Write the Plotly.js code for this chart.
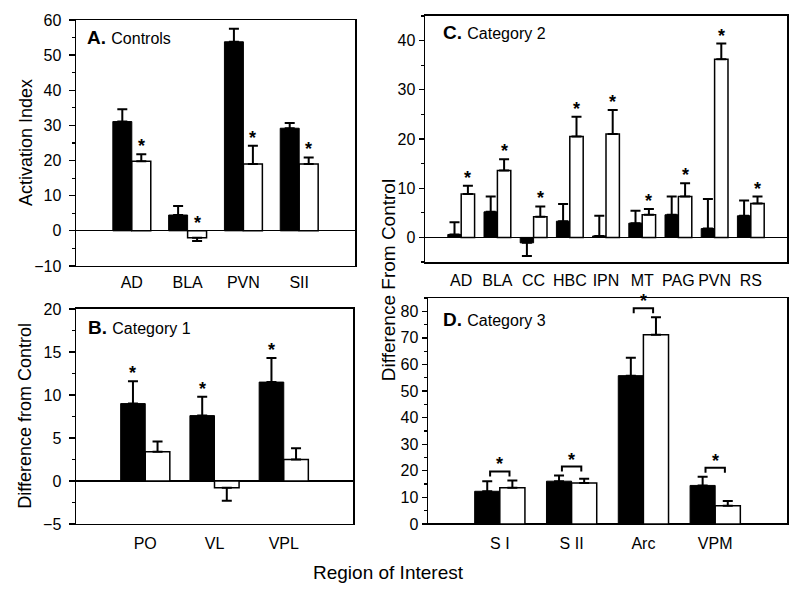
<!DOCTYPE html>
<html>
<head>
<meta charset="utf-8">
<script src="https://cdn.plot.ly/plotly-3.0.1.min.js"></script>
<style>html,body{margin:0;padding:0;background:#fff;}#chart{width:800px;height:590px;}</style>
</head>
<body>
<div id="chart"></div>
<script>
// ---- Panel A: Controls ----
const aCats = ['AD', 'BLA', 'PVN', 'SII'];
const aBlack = [31.1, 4.5, 53.8, 29.2];
const aBlackErr = [3.5, 2.6, 3.7, 1.5];
const aWhite = [19.8, -2.0, 19.0, 19.0];
const aWhiteErr = [2.0, 0.9, 5.2, 1.9];

// ---- Panel B: Category 1 ----
const bCats = ['PO', 'VL', 'VPL'];
const bBlack = [9.0, 7.6, 11.5];
const bBlackErr = [2.6, 2.2, 2.8];
const bWhite = [3.4, -0.8, 2.5];
const bWhiteErr = [1.2, 1.5, 1.3];

// ---- Panel C: Category 2 ----
const cCats = ['AD', 'BLA', 'CC', 'HBC', 'IPN', 'MT', 'PAG', 'PVN', 'RS'];
const cBlack = [0.6, 5.2, -1.1, 3.3, 0.3, 2.9, 4.6, 1.8, 4.4];
const cBlackErr = [2.5, 3.1, 2.7, 3.5, 4.1, 2.5, 3.7, 6.0, 3.1];
const cWhite = [8.8, 13.6, 4.2, 20.5, 21.0, 4.6, 8.3, 36.2, 6.9];
const cWhiteErr = [1.7, 2.3, 2.1, 4.0, 4.9, 1.2, 2.7, 3.2, 1.4];

// ---- Panel D: Category 3 ----
const dCats = ['S I', 'S II', 'Arc', 'VPM'];
const dBlack = [12.3, 16.1, 55.8, 14.5];
const dBlackErr = [3.8, 2.1, 6.7, 3.3];
const dWhite = [13.6, 15.4, 71.2, 6.9];
const dWhiteErr = [2.8, 1.6, 6.6, 1.7];

const FONT = 'Liberation Sans, Arial, Helvetica, sans-serif';

function idx(arr) { return arr.map((_, i) => i); }
function errUp(v, e) { return v.map((x, i) => x >= 0 ? e[i] : 0); }
function errDown(v, e) { return v.map((x, i) => x < 0 ? e[i] : 0); }
function topOf(v, e) { return v.map((x, i) => x >= 0 ? x + e[i] : 0); }

function barPair(cats, blk, blkE, wht, whtE, w, xa, ya) {
  const x = idx(cats);
  const eb = (v, e) => ({type: 'data', symmetric: false, array: errUp(v, e), arrayminus: errDown(v, e),
    color: '#000', thickness: 2, width: 5});
  return [
    {type: 'bar', x: x, y: blk, width: w, offset: -w, xaxis: xa, yaxis: ya,
     marker: {color: '#000', line: {color: '#000', width: 1}}, error_y: eb(blk, blkE), hoverinfo: 'skip'},
    {type: 'bar', x: x, y: wht, width: w, offset: 0, xaxis: xa, yaxis: ya,
     marker: {color: '#fff', line: {color: '#000', width: 1.5}}, error_y: eb(wht, whtE), hoverinfo: 'skip'}
  ];
}

const wA = 0.34, wB = 0.355, wC = 0.37, wD = 0.35;

const data = [].concat(
  barPair(aCats, aBlack, aBlackErr, aWhite, aWhiteErr, wA, 'x', 'y'),
  barPair(bCats, bBlack, bBlackErr, bWhite, bWhiteErr, wB, 'x2', 'y2'),
  barPair(cCats, cBlack, cBlackErr, cWhite, cWhiteErr, wC, 'x3', 'y3'),
  barPair(dCats, dBlack, dBlackErr, dWhite, dWhiteErr, wD, 'x4', 'y4')
);

const annotations = [];
const shapes = [];

function star(xref, yref, x, y, shift) {
  annotations.push({xref: xref, yref: yref, x: x, y: y, text: '<b>*</b>', showarrow: false,
    yanchor: 'bottom', yshift: shift || 0, font: {family: FONT, size: 18, color: '#000'}});
}

// A: asterisks over white bars
topOf(aWhite, aWhiteErr).forEach((t, i) => star('x', 'y', i + wA / 2, t, -4));
// B: asterisks over black bars
topOf(bBlack, bBlackErr).forEach((t, i) => star('x2', 'y2', i - wB / 2, t, -4));
// C: asterisks over white bars
topOf(cWhite, cWhiteErr).forEach((t, i) => star('x3', 'y3', i + wC / 2, t, -4));
// D: brackets + asterisks
const dTopB = topOf(dBlack, dBlackErr), dTopW = topOf(dWhite, dWhiteErr);
dCats.forEach((c, i) => {
  const m = Math.max(dTopB[i], dTopW[i]);
  const x0 = i - wD / 2 + 0.04, x1 = i + wD / 2 - 0.04;
  shapes.push({type: 'path', xref: 'x4', yref: 'y4', ysizemode: 'pixel', yanchor: m,
    path: `M ${x0},4 L ${x0},9 L ${x1},9 L ${x1},4`, line: {color: '#000', width: 2}});
  star('x4', 'y4', i, m, 4);
});

function panelLabel(xref, yref, x, y, letter, name) {
  annotations.push({xref: xref, yref: yref, x: x, y: y, xanchor: 'left', yanchor: 'middle', showarrow: false,
    text: `<b>${letter}</b> <span style="font-size:16px">${name}</span>`,
    font: {family: FONT, size: 19, color: '#000'}});
}
panelLabel('x domain', 'y domain', 0.032, 0.927, 'A.', 'Controls');
panelLabel('x2 domain', 'y2 domain', 0.036, 0.916, 'B.', 'Category 1');
panelLabel('x3 domain', 'y3 domain', 0.045, 0.931, 'C.', 'Category 2');
panelLabel('x4 domain', 'y4 domain', 0.035, 0.903, 'D.', 'Category 3');

function paperText(x, y, text, angle, size) {
  annotations.push({xref: 'paper', yref: 'paper', x: x, y: y, text: text, textangle: angle, showarrow: false,
    xanchor: 'center', yanchor: 'middle', font: {family: FONT, size: size, color: '#000'}});
}
paperText(0.0325, 0.7576, 'Activation Index', -90, 18);
paperText(0.031, 0.295, 'Difference from Control', -90, 18);
paperText(0.485, 0.525, 'Difference From Control', -90, 19);
paperText(0.486, 0.0305, 'Region of Interest', 0, 19);

function xAx(domain, anchor, cats, standoff) {
  return {domain: domain, anchor: anchor, range: [-1, cats.length], tickvals: idx(cats), ticktext: cats,
    ticks: '', showline: true, mirror: true, linecolor: '#000', linewidth: 1.5, showgrid: false,
    zeroline: false, ticklabelstandoff: standoff, tickfont: {family: FONT, size: 16, color: '#000'}, fixedrange: true};
}
function yAx(domain, anchor, range, tickvals, minorDtick, standoff, ticklen) {
  return {domain: domain, anchor: anchor, range: range, tickvals: tickvals, ticks: 'outside', ticklen: ticklen,
    tickwidth: 1.3, tickcolor: '#000', showline: true, mirror: true, linecolor: '#000', linewidth: 1.5,
    showgrid: false, zeroline: true, zerolinecolor: '#000', zerolinewidth: 1.3, ticklabelstandoff: standoff,
    minor: {dtick: minorDtick, ticks: 'outside', ticklen: 3, tickcolor: '#000', tickwidth: 1.2, showgrid: false},
    tickfont: {family: FONT, size: 16, color: '#000'}, fixedrange: true};
}

const layout = {
  width: 800, height: 590, margin: {l: 0, r: 0, t: 0, b: 0},
  paper_bgcolor: '#fff', plot_bgcolor: '#fff', showlegend: false, barmode: 'overlay',
  font: {family: FONT, color: '#000'},
  xaxis: xAx([0.095, 0.44375], 'y', aCats, 1),
  yaxis: yAx([0.5492, 0.9661], 'x', [-10, 60], [-10, 0, 10, 20, 30, 40, 50, 60], 5, 4, 6),
  xaxis2: xAx([0.095, 0.44125], 'y2', bCats, 4),
  yaxis2: yAx([0.1119, 0.4763], 'x2', [-5, 20], [-5, 0, 5, 10, 15, 20], 2.5, 4, 6),
  xaxis3: xAx([0.53125, 0.98375], 'y3', cCats, 3),
  yaxis3: yAx([0.5559, 0.9729], 'x3', [-5, 45], [0, 10, 20, 30, 40], 5, 0, 5),
  xaxis4: xAx([0.535, 0.98375], 'y4', dCats, 4),
  yaxis4: yAx([0.1119, 0.4949], 'x4', [0, 85], [0, 10, 20, 30, 40, 50, 60, 70, 80], 5, 0, 5),
  annotations: annotations,
  shapes: shapes
};

Plotly.newPlot('chart', data, layout, {displayModeBar: false, staticPlot: true});
</script>
</body>
</html>
